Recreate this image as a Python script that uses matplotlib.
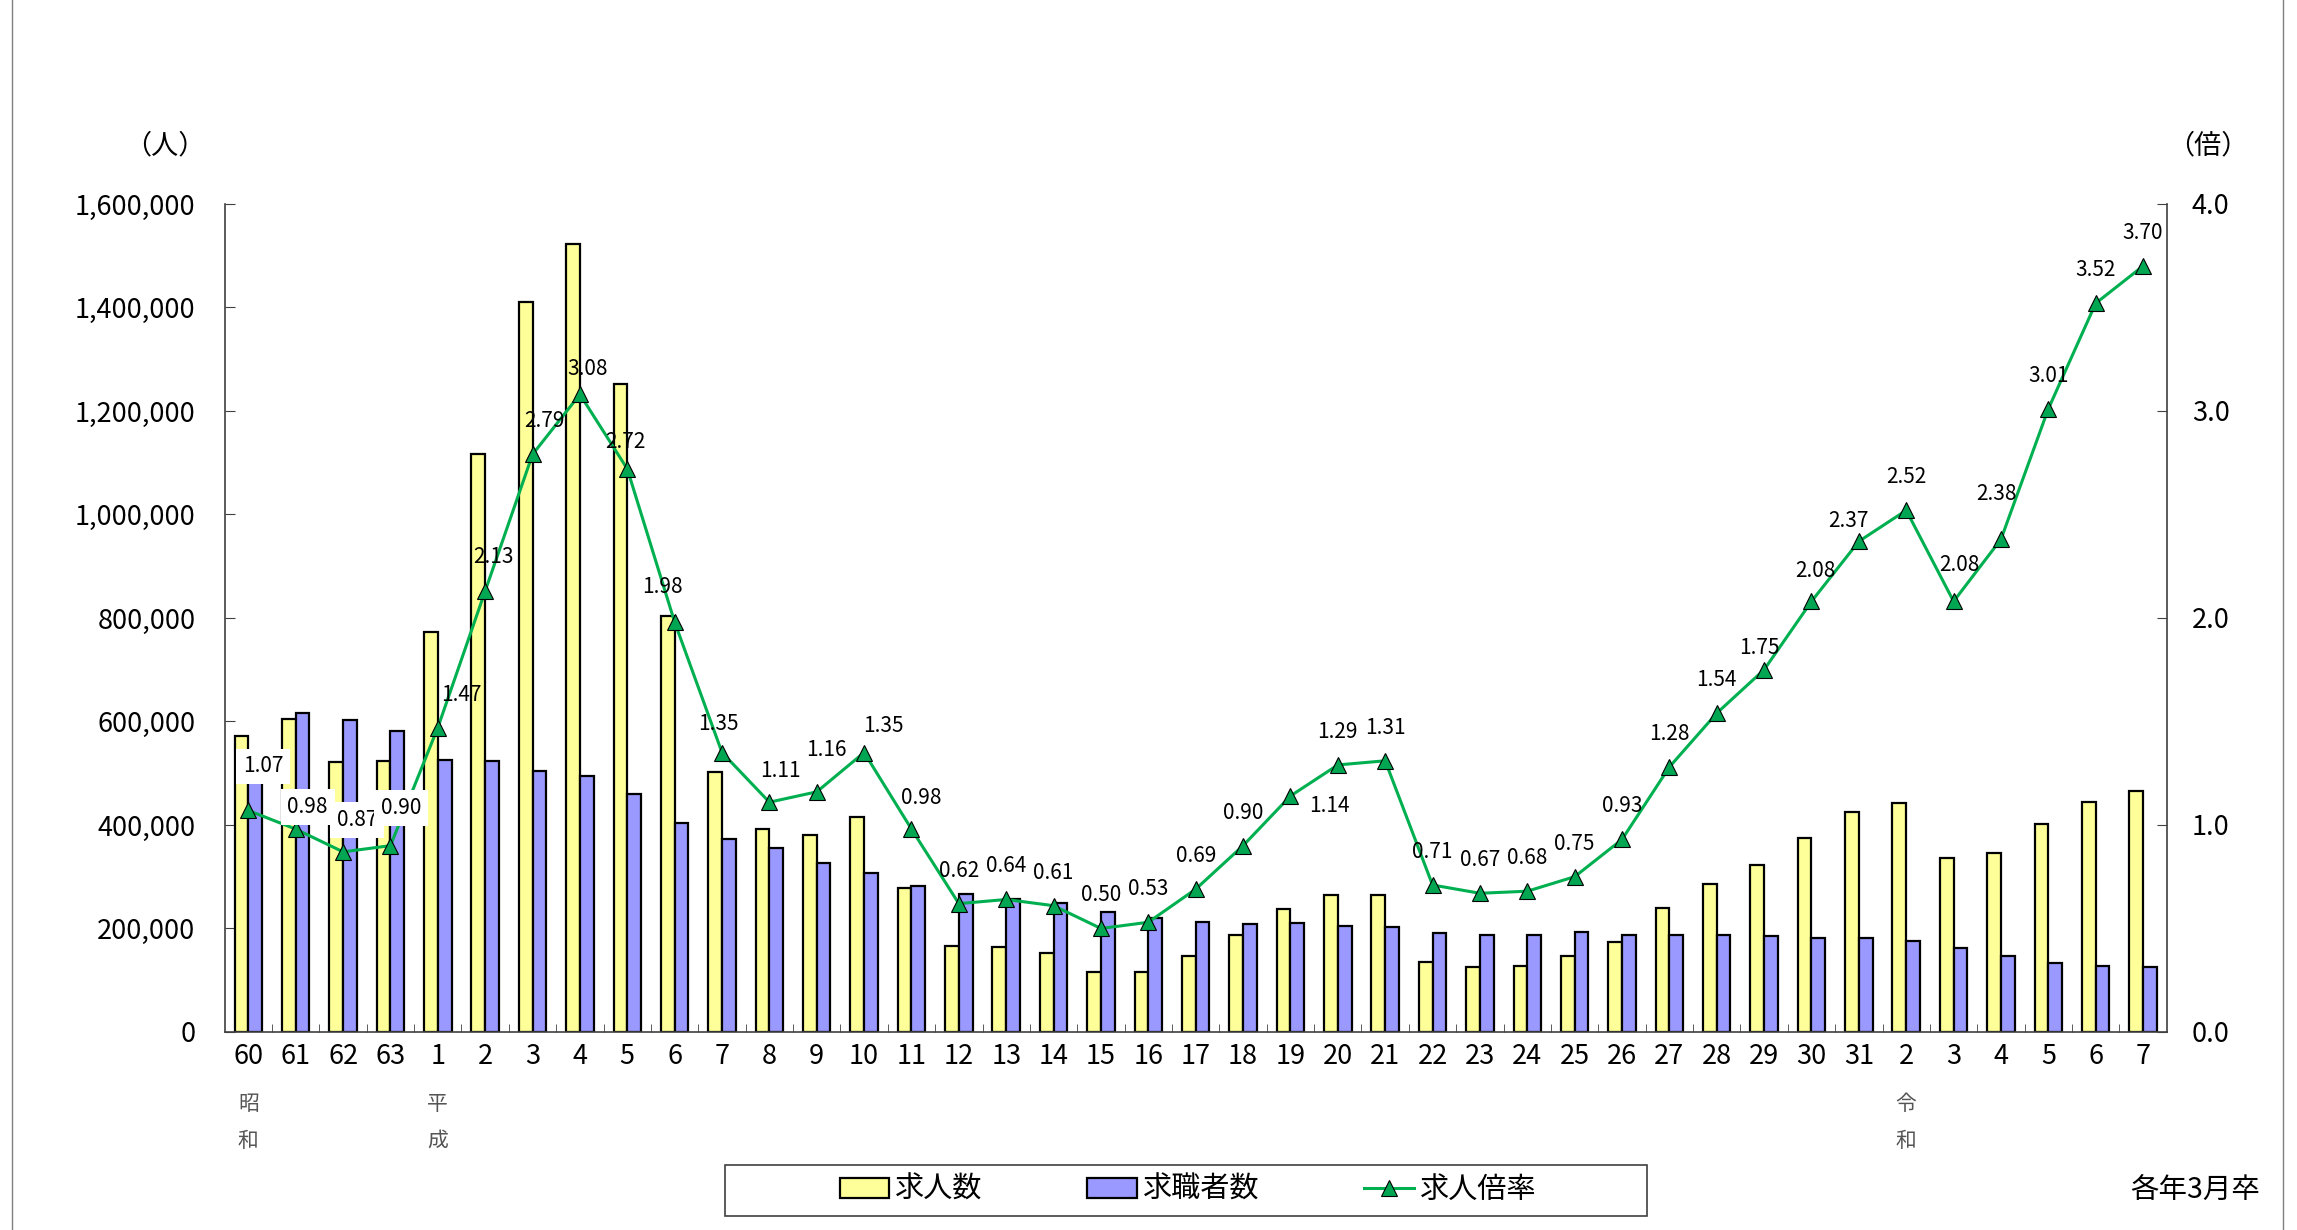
import numpy as np
import matplotlib
matplotlib.use('Agg')
import matplotlib.pyplot as plt
from matplotlib.patches import Patch, Rectangle
from matplotlib.lines import Line2D
from matplotlib.ticker import FuncFormatter

plt.rcParams['font.family'] = ['Noto Sans CJK JP', 'DejaVu Sans']

# 卒業年 (昭和60 ～ 令和7)
categories = ['60', '61', '62', '63'] + [str(i) for i in range(1, 32)] + [str(i) for i in range(2, 8)]

# 求人数 (人)
offers = [571000, 605000, 521000, 523000,
          772000, 1117000, 1410000, 1523000, 1253000, 803000, 503000, 393000, 380000, 415000,
          279000, 167000, 164000, 153000, 116000, 116000, 147000, 188000, 237000, 264000,
          264000, 135000, 125000, 128000, 146000, 173000, 239000, 286000, 323000, 375000, 426000,
          443000, 336000, 346000, 402000, 444000, 465000]

# 求職者数 (人)
seekers = [533000, 616000, 602000, 581000,
           526000, 523000, 505000, 495000, 460000, 404000, 372000, 355000, 327000, 307000,
           283000, 267000, 257000, 249000, 231000, 220000, 212000, 208000, 210000, 205000,
           203000, 191000, 187000, 187000, 194000, 187000, 187000, 187000, 186000, 181000, 181000,
           175000, 162000, 146000, 134000, 127000, 126000]

# 求人倍率 (倍)
ratio = [1.07, 0.98, 0.87, 0.90,
         1.47, 2.13, 2.79, 3.08, 2.72, 1.98, 1.35, 1.11, 1.16, 1.35,
         0.98, 0.62, 0.64, 0.61, 0.50, 0.53, 0.69, 0.90, 1.14, 1.29,
         1.31, 0.71, 0.67, 0.68, 0.75, 0.93, 1.28, 1.54, 1.75, 2.08, 2.37,
         2.52, 2.08, 2.38, 3.01, 3.52, 3.70]

eras = {0: '昭\n和', 4: '平\n成', 35: '令\n和'}

YELLOW = '#FFFF99'
BLUE = '#9999FF'
GREEN = '#00B050'
SPINE = '#404040'

# label offsets in pixels (dx, dy); default is straight above the marker
label_offsets = {0: (15, 44), 1: (12, 22), 2: (14, 32), 3: (11, 38), 4: (24, 33),
                 5: (8, 34), 6: (12, 33), 7: (8, 25), 8: (-2, 27), 9: (-12, 35),
                 10: (-4, 29), 11: (11, 31), 12: (10, 42), 13: (19, 27), 14: (10, 31),
                 22: (39, -10), 32: (-5, 22), 33: (4, 30), 34: (-10, 20), 36: (6, 36),
                 37: (-5, 45)}
boxed = [0, 1, 2, 3]

fig = plt.figure(figsize=(22.97, 12.30), dpi=100)
ax = fig.add_axes([0.0978, 0.161, 0.8455, 0.6732])

x = np.arange(len(categories))
w = 0.29
ax.bar(x - w / 2, offers, w, color=YELLOW, edgecolor='black', linewidth=1.6, zorder=2)
ax.bar(x + w / 2, seekers, w, color=BLUE, edgecolor='black', linewidth=1.6, zorder=2)

ax.set_xlim(-0.5, len(categories) - 0.5)
ax.set_ylim(0, 1600000)
ax.set_yticks(np.arange(0, 1600001, 200000))
ax.yaxis.set_major_formatter(FuncFormatter(lambda v, p: f'{int(v):,}'))
ax.set_xticks(x)
ax.set_xticklabels(categories)
ax.set_xticks(x[:-1] + 0.5, minor=True)
ax.tick_params(axis='x', which='major', length=0, pad=8, labelsize=19.5)
ax.tick_params(axis='x', which='minor', direction='in', length=6, color=SPINE)
ax.tick_params(axis='y', direction='in', length=7, pad=21, labelsize=19.5, color=SPINE)
for s in ['top', 'right']:
    ax.spines[s].set_visible(False)
for s in ['left', 'bottom']:
    ax.spines[s].set_color(SPINE)
    ax.spines[s].set_linewidth(1.2)

ax2 = ax.twinx()
ax2.set_ylim(0, 4)
ax2.set_yticks(np.arange(0, 4.01, 1.0))
ax2.yaxis.set_major_formatter(FuncFormatter(lambda v, p: f'{v:.1f}'))
ax2.tick_params(axis='y', direction='in', length=7, pad=18, labelsize=19.5, color=SPINE)
for s in ['top', 'left', 'bottom']:
    ax2.spines[s].set_visible(False)
ax2.spines['right'].set_color(SPINE)
ax2.spines['right'].set_linewidth(1.2)

ax2.plot(x, ratio, color=GREEN, lw=2.2, marker='^', ms=11,
         mfc='#00A651', mec='black', mew=0.8, zorder=3)

for i, r in enumerate(ratio):
    dx, dy = label_offsets.get(i, (0, 33))
    kw = {}
    if i in boxed:
        kw['bbox'] = dict(fc='white', ec='none', pad=5)
    ax2.annotate(f'{r:.2f}', (x[i], r), xytext=(dx, dy), textcoords='offset pixels',
                 ha='center', va='center', fontsize=15, zorder=4, **kw)

# era labels under the x axis
for i, t in eras.items():
    ax.text(x[i], -0.074, t, transform=ax.get_xaxis_transform(), ha='center', va='top',
            fontsize=15, color='#555555', linespacing=1.85)

# unit labels
fig.text(165 / 2297, 1 - 146 / 1230, '（人）', ha='center', va='center', fontsize=19.5)
fig.text(2208 / 2297, 1 - 146 / 1230, '（倍）', ha='center', va='center', fontsize=19.5)
fig.text(2260 / 2297, 1 - 1190 / 1230, '各年3月卒', ha='right', va='center', fontsize=20.5)

# legend
handles = [Patch(fc=YELLOW, ec='black', lw=1.6),
           Patch(fc=BLUE, ec='black', lw=1.6),
           Line2D([], [], color=GREEN, lw=2.2, marker='^', ms=11, mfc='#00A651', mec='black', mew=0.8)]
fig.add_artist(Rectangle((725 / 2297, 1 - 1216 / 1230), 922 / 2297, 51 / 1230,
                         transform=fig.transFigure, fill=False, ec=SPINE, lw=1.2))
fig.legend(handles, ['求人数', '求職者数', '求人倍率'], loc='center',
           bbox_to_anchor=(1188 / 2297, 1 - 1190 / 1230), ncol=3, frameon=False,
           fontsize=21, handlelength=1.7, handletextpad=0.2, columnspacing=3.6)

# outer frame lines
fig.add_artist(Line2D([12 / 2297, 12 / 2297], [0, 1], transform=fig.transFigure, color='#808080', lw=1))
fig.add_artist(Line2D([2283 / 2297, 2283 / 2297], [0, 1], transform=fig.transFigure, color='#808080', lw=1))

fig.savefig('out.png', dpi=100, facecolor='white')
